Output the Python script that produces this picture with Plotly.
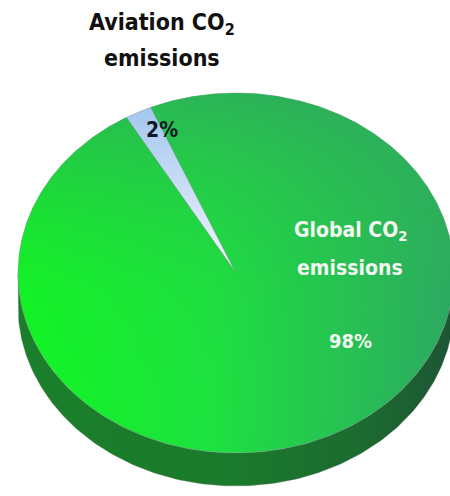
import numpy as np
import plotly.graph_objects as go

# ---- data ----
labels = ["Aviation CO<sub>2</sub><br>emissions", "Global CO<sub>2</sub><br>emissions"]
values = [2, 98]
pct_labels = ["2%", "98%"]

# ---- geometry (pixel space) ----
W, H = 450, 496
cx, cy = 236, 273      # centre of top face
a, b = 218, 180        # ellipse semi-axes
depth = 33             # thickness of the 3D side
start_deg = -30.2      # angle (clockwise from 12 o'clock) where first slice starts


def pt(theta_deg, dy=0.0):
    t = np.radians(theta_deg)
    return cx + a * np.sin(t), cy - b * np.cos(t) + dy


fig = go.Figure()

# side of the disc (front half)
th_top = np.linspace(90, 270, 200)
xs1, ys1 = pt(th_top)
xs2, ys2 = pt(th_top[::-1], depth)
side_x = np.concatenate([xs1, xs2, xs1[:1]])
side_y = np.concatenate([ys1, ys2, ys1[:1]])
fig.add_trace(go.Scatter(
    x=side_x, y=side_y, mode="lines", fill="toself",
    line=dict(width=0.6, color="rgba(90,110,90,0.6)"),
    fillgradient=dict(type="horizontal", start=cx - a, stop=cx + a,
                      colorscale=[[0, "#1a7f2a"], [0.5, "#1a7a2c"], [0.8, "#1c6a30"], [1, "#1d5535"]]),
    hoverinfo="skip", showlegend=False))

# slices on the top face
total = float(sum(values))
angles = [start_deg]
for v in values:
    angles.append(angles[-1] + 360.0 * v / total)

slice_styles = [
    dict(type="vertical", colorscale=[[0, "#a3c6ef"], [1, "#f4f7fb"]]),
    dict(type="horizontal", colorscale=[[0, "#10f722"], [0.45, "#1ee040"], [1, "#2ea565"]]),
]

for i, v in enumerate(values):
    th = np.linspace(angles[i], angles[i + 1], max(3, int(abs(angles[i + 1] - angles[i]) * 2)))
    ex, ey = pt(th)
    px = np.concatenate([[cx], ex, [cx]])
    py = np.concatenate([[cy], ey, [cy]])
    fg = dict(slice_styles[i])
    if fg["type"] == "horizontal":
        fg.update(start=cx - a, stop=cx + a)
    else:
        fg.update(start=float(ey.min()), stop=cy)
    fig.add_trace(go.Scatter(
        x=px, y=py, mode="lines", fill="toself",
        line=dict(width=0.6, color="rgba(120,140,130,0.7)"),
        fillgradient=fg, hoverinfo="skip", showlegend=False))
    if i == 1:
        # vertical shading overlay to darken the top of the large slice
        fig.add_trace(go.Scatter(
            x=px, y=py, mode="lines", fill="toself",
            line=dict(width=0),
            fillgradient=dict(type="vertical", start=cy - b, stop=cy + b,
                              colorscale=[[0, "rgba(48,165,95,0.75)"], [0.55, "rgba(40,200,70,0.12)"],
                                          [1, "rgba(20,245,40,0)"]]),
            hoverinfo="skip", showlegend=False))

font_family = "DejaVu Sans Condensed, Liberation Sans Narrow, Arial Narrow, Liberation Sans, sans-serif"


def add_lines(text, x, ys, size, color):
    for line, y in zip(text.split("<br>"), ys):
        fig.add_annotation(x=x, y=y, text="<b>" + line + "</b>", showarrow=False,
                           font=dict(family=font_family, size=size, color=color), align="center")


# labels
add_lines(labels[0], 162, [24, 58], 23, "#111111")
fig.add_annotation(x=162, y=130, text="<b>" + pct_labels[0] + "</b>", showarrow=False,
                   font=dict(family=font_family, size=21, color="#101828"))
add_lines(labels[1], 350, [231, 268], 21, "#f2f5f0")
fig.add_annotation(x=350, y=341, text="<b>" + pct_labels[1] + "</b>", showarrow=False,
                   font=dict(family=font_family, size=20, color="#f2f5f0"))

fig.update_layout(
    width=W, height=H, margin=dict(l=0, r=0, t=0, b=0),
    paper_bgcolor="white", plot_bgcolor="white",
    xaxis=dict(range=[0, W], visible=False, fixedrange=True),
    yaxis=dict(range=[H, 0], visible=False, fixedrange=True),
    showlegend=False,
)

fig.write_html("out.html")
